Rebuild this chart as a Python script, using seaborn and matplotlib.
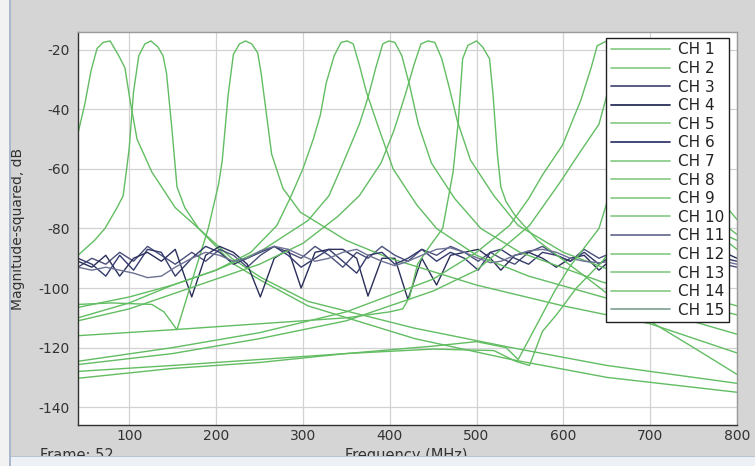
import pandas as pd
import matplotlib.pyplot as plt
import seaborn as sns
from matplotlib.lines import Line2D
from matplotlib.patches import Rectangle

# ---- data (frequency in MHz, magnitude in dB) ----
# green band-pass channels, each with its own breakpoints
f_ch1 = [41, 49, 56, 63, 70, 78, 88, 95, 101, 109, 126, 153, 180, 218, 252, 306, 429, 540, 650, 800]
db_ch1 = [-48, -38, -27, -19.5, -17.5, -17, -22, -26, -37, -50, -61, -73, -80, -90, -96.5, -104.5, -113.5, -120, -126, -132]

f_ch2 = [41, 60, 72, 86, 93, 97, 100, 105, 111, 118, 125, 133, 139, 143, 149, 155, 164, 180, 218, 252, 306, 429, 540, 650, 800]
db_ch2 = [-89, -84, -80, -73, -69, -60, -53, -34, -22, -18, -17, -19, -22, -28, -46, -66, -73, -80, -91.5, -97.5, -106, -117, -124, -130, -135]

f_ch5 = [41, 80, 126, 140, 155, 175, 191, 203, 207, 214, 220, 227, 234, 241, 248, 252, 264, 277, 297, 350, 400, 500, 600, 700, 800]
db_ch5 = [-105.5, -105, -105.5, -108, -114, -95, -80, -65, -57.5, -35, -21.5, -18, -17, -18, -21, -28, -55, -66.5, -74.5, -84, -90, -99, -106, -112, -121.8]

f_ch7 = [41, 100, 150, 200, 240, 270, 285, 300, 312, 320, 327, 336, 344, 351, 358, 365, 373, 387, 404, 431, 454, 500, 560, 645, 699, 800]
db_ch7 = [-106.5, -103, -99, -94, -88, -79, -70, -60, -50, -42, -31, -22, -17.5, -17, -18, -25, -34, -46, -60, -72, -80, -89, -96, -103, -107, -115.5]

f_ch8 = [41, 100, 150, 200, 252, 306, 330, 342, 355, 365, 375, 384, 392, 399, 406, 414, 423, 433, 448, 475, 505, 550, 645, 700, 800]
db_ch8 = [-110, -105, -99, -94, -87.5, -77.3, -69, -61, -52, -45, -36, -26, -18, -17, -17.5, -22, -32, -45, -58, -70, -80, -88, -98, -102, -109]

f_ch9 = [41, 100, 150, 200, 250, 300, 340, 365, 390, 405, 418, 428, 436, 444, 452, 460, 468, 478, 493, 520, 548, 600, 645, 700, 800]
db_ch9 = [-111, -107, -102, -97, -92, -85, -76, -69, -58, -47, -35, -25, -18, -17, -17.5, -23, -32, -44, -57, -69, -79, -88, -93, -98, -106]

f_ch10 = [41, 150, 250, 350, 400, 415, 423, 432, 446, 461, 468, 473, 479, 484, 490, 500, 507, 515, 519, 524, 528, 534, 544, 570, 620, 660, 699, 750, 800]
db_ch10 = [-116, -114, -112, -110, -108, -107, -103, -92, -86, -80, -69, -61, -44, -23, -18.5, -17, -19, -23, -35, -55, -66, -71, -75.5, -84, -95, -104, -111, -120, -129]

f_ch12 = [41, 150, 250, 350, 450, 500, 538, 560, 576, 599, 620, 632, 639, 650, 660, 675, 700, 730, 760, 800]
db_ch12 = [-124.6, -120, -115, -108, -97, -88, -79, -70, -62, -52, -37, -26, -18.6, -17, -20, -35, -56, -68, -78, -87]

f_ch13 = [41, 150, 250, 350, 450, 500, 561, 595, 620, 641, 655, 662, 668, 675, 685, 700, 730, 760, 800]
db_ch13 = [-125.7, -122, -117, -111, -101, -94, -79, -65, -54, -45, -30, -20, -17, -18, -26, -45, -63, -73, -82]

f_ch14 = [41, 150, 250, 350, 450, 500, 534, 548, 570, 590, 607, 641, 660, 675, 684, 690, 698, 706, 715, 735, 770, 800]
db_ch14 = [-130.3, -127, -125, -122, -119.5, -118, -120, -124, -112, -101, -93, -80, -62, -35, -20, -17, -20, -40, -62, -72, -80, -84]

f_ch15 = [41, 150, 250, 350, 450, 520, 545, 561, 576, 592, 615, 645, 680, 705, 720, 728, 735, 742, 750, 760, 780, 800]
db_ch15 = [-128, -126, -124, -122, -120.5, -121, -124.6, -126, -114.5, -109, -100, -91, -78, -60, -35, -20, -17, -20, -40, -60, -70, -77]

# noisy navy channels share one frequency grid
f_noise = [41, 57, 73, 89, 105, 121, 137, 153, 172, 188, 204, 220, 236, 251, 267, 283,
           298, 314, 330, 346, 362, 375, 391, 406, 421, 437, 454, 470, 486, 502, 516, 528,
           544, 560, 576, 592, 608, 624, 641, 657, 673, 689, 705, 721, 737, 753, 769, 785, 800]
db_ch3 = [-93, -90, -92, -88, -91, -86, -89, -92, -88, -91, -87, -89, -93, -89, -86, -88,
          -90, -86, -89, -93, -88, -90, -86, -89, -91, -87, -89, -86, -88, -91, -88, -90,
          -92, -88, -86, -89, -91, -87, -90, -88, -91, -89, -87, -90, -88, -91, -89, -92, -93]
db_ch4 = [-91, -93, -89, -96, -90, -88, -91, -87, -103, -89, -86, -88, -92, -103, -90, -87,
          -100, -88, -87, -87, -90, -102.7, -90, -90, -103.8, -90, -99, -89, -88, -87, -90, -94,
          -89, -88, -90, -93, -90, -89, -94, -90, -89, -91, -88, -90, -92, -89, -91, -88, -90]
db_ch6 = [-90, -92, -96, -89, -94, -87, -88, -96, -90, -86, -88, -92, -90, -88, -86, -89,
          -93, -90, -87, -91, -95, -89, -88, -92, -90, -87, -91, -88, -90, -94, -88, -87,
          -90, -92, -88, -89, -91, -88, -92, -89, -90, -88, -91, -89, -90, -92, -88, -90, -91]
db_ch11 = [-93, -94, -93, -94, -95, -96.5, -96, -93, -90, -88, -89, -91, -90, -87.5, -86, -87,
           -89, -91, -90, -88, -87, -89, -91, -92.5, -91, -89, -87, -86.5, -88, -90, -91.5, -91,
           -89, -87.5, -87, -88, -90, -91, -91.5, -91, -90, -89, -90, -91, -90, -89, -90, -91, -92]

x_ticks = [100, 200, 300, 400, 500, 600, 700, 800]
y_ticks = [-140, -120, -100, -80, -60, -40, -20]

channels = {
    "CH 1": (f_ch1, db_ch1), "CH 2": (f_ch2, db_ch2), "CH 3": (f_noise, db_ch3),
    "CH 4": (f_noise, db_ch4), "CH 5": (f_ch5, db_ch5), "CH 6": (f_noise, db_ch6),
    "CH 7": (f_ch7, db_ch7), "CH 8": (f_ch8, db_ch8), "CH 9": (f_ch9, db_ch9),
    "CH 10": (f_ch10, db_ch10), "CH 11": (f_noise, db_ch11), "CH 12": (f_ch12, db_ch12),
    "CH 13": (f_ch13, db_ch13), "CH 14": (f_ch14, db_ch14), "CH 15": (f_ch15, db_ch15),
}

green = "#62bd62"
colors = {name: green for name in channels}
colors["CH 3"] = "#4a4f7a"
colors["CH 4"] = "#2a2f5a"
colors["CH 6"] = "#343a6c"
colors["CH 11"] = "#6c7194"
legend_colors = dict(colors)
for name in ["CH 1", "CH 2", "CH 5", "CH 7", "CH 8", "CH 9", "CH 10", "CH 12", "CH 13", "CH 14"]:
    legend_colors[name] = "#8ccf8c"
legend_colors["CH 15"] = "#86a898"

rows = []
for name, (fs, vals) in channels.items():
    for f, v in zip(fs, vals):
        rows.append({"channel": name, "freq": f, "db": v})
df = pd.DataFrame(rows)

#%% PLOT
sns.set_theme(style="whitegrid")
plt.rcParams["font.family"] = ["DejaVu Sans"]
plt.rcParams["axes.unicode_minus"] = False

fig = plt.figure(figsize=(7.55, 4.66), dpi=100, facecolor="#d5d5d5")
ax = fig.add_axes([78 / 755, 1 - 425 / 466, 659 / 755, 393 / 466])
ax.set_facecolor("white")

sns.lineplot(data=df, x="freq", y="db", hue="channel", hue_order=list(channels),
             palette=colors, estimator=None, sort=False, legend=False,
             linewidth=1.0, ax=ax)

ax.set_xlim(41, 800)
ax.set_ylim(-146, -14)
ax.set_xticks(x_ticks)
ax.set_yticks(y_ticks)
ax.grid(True, color="#d2d2d2", linewidth=0.9)
ax.tick_params(axis="x", length=0, labelsize=10, colors="#333333", pad=3)
ax.tick_params(axis="y", length=0, labelsize=10, colors="#333333", pad=6)
ax.set_xlabel("")
ax.set_ylabel("Magnitude-squared, dB", fontsize=10, color="#333333", labelpad=10)
for side, sp in ax.spines.items():
    sp.set_color("#303030" if side in ("left", "bottom") else "#9a9a9a")
    sp.set_linewidth(1.0)

handles = [Line2D([], [], color=legend_colors[n], lw=1.3) for n in channels]
leg = ax.legend(handles, list(channels), loc="upper right", bbox_to_anchor=(0.988, 0.985),
                borderaxespad=0, fontsize=11, handlelength=3.9, handletextpad=0.5,
                labelspacing=0.235, borderpad=0.3, fancybox=False, framealpha=1,
                edgecolor="#202020", labelcolor="#222222")
leg.get_frame().set_linewidth(1.0)

fig.text(40 / 755, 1 - 448 / 466, "Frame: 52", fontsize=10.5, color="#333333", va="top")
fig.text(406 / 755, 1 - 448 / 466, "Frequency (MHz)", fontsize=10.5, color="#333333",
         va="top", ha="center")

# window chrome around the plot
fig.add_artist(Rectangle((0, 0), 1, 9 / 466, transform=fig.transFigure,
                         facecolor="#edf1f6", edgecolor="none", zorder=10))
fig.add_artist(Rectangle((0, 9 / 466), 1, 1.5 / 466, transform=fig.transFigure,
                         facecolor="#b8c3d2", edgecolor="none", zorder=10))
fig.add_artist(Rectangle((0, 0), 9 / 755, 1, transform=fig.transFigure,
                         facecolor="#f2f2f2", edgecolor="none", zorder=10))
fig.add_artist(Rectangle((9 / 755, 0), 1.5 / 755, 1, transform=fig.transFigure,
                         facecolor="#a9b8cc", edgecolor="none", zorder=10))

fig.savefig("out.png", dpi=100, facecolor=fig.get_facecolor())
